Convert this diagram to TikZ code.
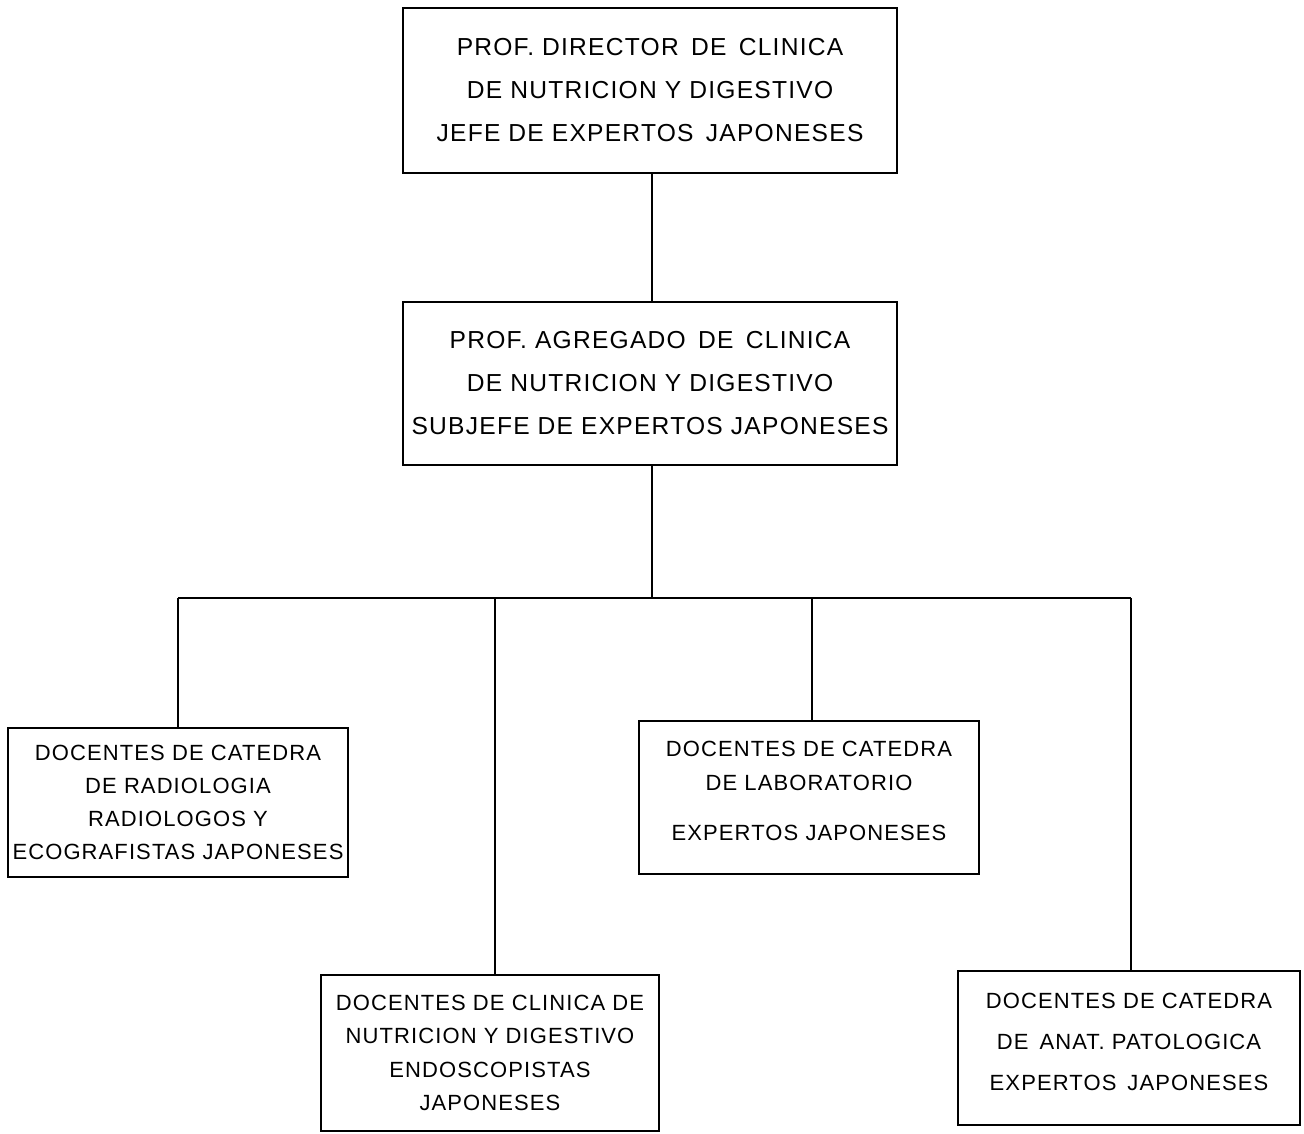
\documentclass[tikz,border=0pt]{standalone}
\usepackage{fontspec}
\setmainfont{Liberation Sans}[LetterSpace=5]
\begin{document}
\begin{tikzpicture}[x=0.5pt,y=-0.5pt,
  box/.style={draw,line width=1.2pt,rectangle,inner sep=0pt,outer sep=0pt,align=center},
  conn/.style={line width=1pt}]
\useasboundingbox[fill=white] (0,0) rectangle (1304,1133);
\node[box,minimum width=247pt,minimum height=82.5pt,font=\fontsize{12.3}{21.5}\selectfont] (n1) at (650,90.5)
  {PROF. DIRECTOR\enspace DE\enspace CLINICA\\ DE NUTRICION Y DIGESTIVO\\ JEFE DE EXPERTOS\enspace JAPONESES};
\node[box,minimum width=247pt,minimum height=81.5pt,font=\fontsize{12.3}{21.5}\selectfont] (n2) at (650,383.5)
  {PROF. AGREGADO\enspace DE\enspace CLINICA\\ DE NUTRICION Y DIGESTIVO\\ SUBJEFE DE EXPERTOS JAPONESES};
\node[box,minimum width=170pt,minimum height=74.5pt,font=\fontsize{11}{16.5}\selectfont] (n3) at (178,802.5)
  {DOCENTES DE CATEDRA\\ DE RADIOLOGIA\\ RADIOLOGOS Y\\ ECOGRAFISTAS JAPONESES};
\node[box,minimum width=169pt,minimum height=78pt,font=\fontsize{11}{16.8}\selectfont] (n4) at (490,1053)
  {DOCENTES DE CLINICA DE\\ NUTRICION Y DIGESTIVO\\ ENDOSCOPISTAS\\ JAPONESES};
\node[box,minimum width=170pt,minimum height=76.5pt,font=\fontsize{11}{17}\selectfont,text depth=7pt] (n5) at (809,797.5)
  {DOCENTES DE CATEDRA\\ DE LABORATORIO\\[8pt] EXPERTOS JAPONESES};
\node[box,minimum width=171pt,minimum height=77pt,font=\fontsize{11}{20.5}\selectfont,text depth=6pt] (n6) at (1129,1048)
  {DOCENTES DE CATEDRA\\ DE\enspace ANAT. PATOLOGICA\\ EXPERTOS\enspace JAPONESES};
\coordinate (j) at (652,598);
\coordinate (d3) at (178,598);
\coordinate (d4) at (495,598);
\coordinate (d5) at (812,598);
\coordinate (d6) at (1131,598);
\draw[conn] (n1.south -| j) -- (n2.north -| j);
\draw[conn] (n2.south -| j) -- (j);
\draw[conn] (d3) -- (d6);
\draw[conn] (d3) -- (n3.north -| d3);
\draw[conn] (d4) -- (n4.north -| d4);
\draw[conn] (d5) -- (n5.north -| d5);
\draw[conn] (d6) -- (n6.north -| d6);
\end{tikzpicture}
\end{document}
